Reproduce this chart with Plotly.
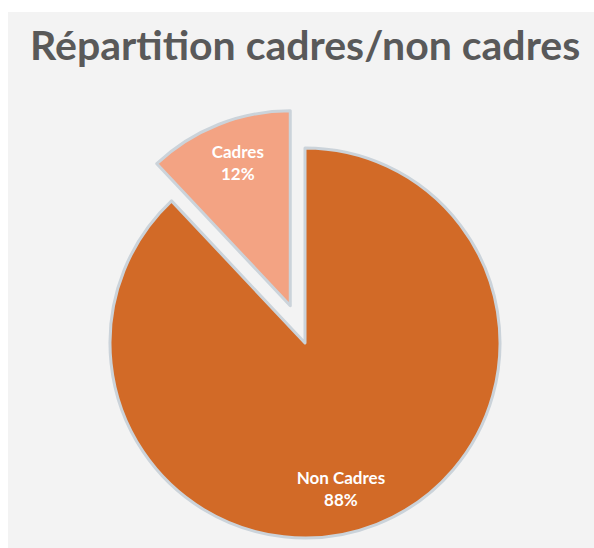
import plotly.graph_objects as go
import math

title_text = "Répartition cadres/non cadres"
labels = ["Non Cadres", "Cadres"]
values = [88, 12]
colors = ["#D26A27", "#F3A383"]
W, H = 594, 548

# pie geometry (pixels)
cx, cy, r = 305, 343, 195
pull_px = 40  # offset of the detached slice

frac = values[1] / sum(values)
mid = math.radians(90 + frac * 360 / 2)
ox, oy = pull_px * math.cos(mid), pull_px * math.sin(mid)


def dom(x, y):
    return dict(x=[(x - r) / W, (x + r) / W], y=[1 - (y + r) / H, 1 - (y - r) / H])


font = dict(family="Lato", size=17, color="white")
edge = "#CBD3DA"
tmpl = "<b>%{label}</b><br><b>%{percent:.0%}</b>"

fig = go.Figure()
fig.add_trace(go.Pie(
    labels=labels, values=values, sort=False, direction="clockwise", rotation=0,
    marker=dict(colors=[colors[0], "rgba(0,0,0,0)"],
                line=dict(color=[edge, "rgba(0,0,0,0)"], width=3)),
    texttemplate=[" <br> <br> <br> <br> <br>" + tmpl, ""],
    textposition="inside", insidetextorientation="horizontal",
    textfont=font, domain=dom(cx, cy), hoverinfo="skip", showlegend=False,
))
fig.add_trace(go.Pie(
    labels=labels, values=values, sort=False, direction="clockwise", rotation=0,
    marker=dict(colors=["rgba(0,0,0,0)", colors[1]],
                line=dict(color=["rgba(0,0,0,0)", edge], width=3)),
    texttemplate=["", tmpl + "<br> "],
    textposition="inside", insidetextorientation="horizontal",
    textfont=font, domain=dom(cx + ox, cy - oy), hoverinfo="skip", showlegend=False,
))

fig.update_layout(
    width=W, height=H, margin=dict(l=0, r=0, t=0, b=0),
    paper_bgcolor="white", plot_bgcolor="white",
    shapes=[dict(type="rect", xref="paper", yref="paper", x0=8 / W, x1=1, y0=0, y1=1 - 12 / H,
                 fillcolor="#F3F3F3", line=dict(width=0), layer="below")],
    annotations=[dict(text="<b>" + title_text + "</b>", x=305 / W, y=1 - 44 / H, xref="paper", yref="paper",
                      xanchor="center", yanchor="middle", showarrow=False,
                      font=dict(family="Lato", size=41, color="#595959"))],
)
fig.write_html("out.html")
